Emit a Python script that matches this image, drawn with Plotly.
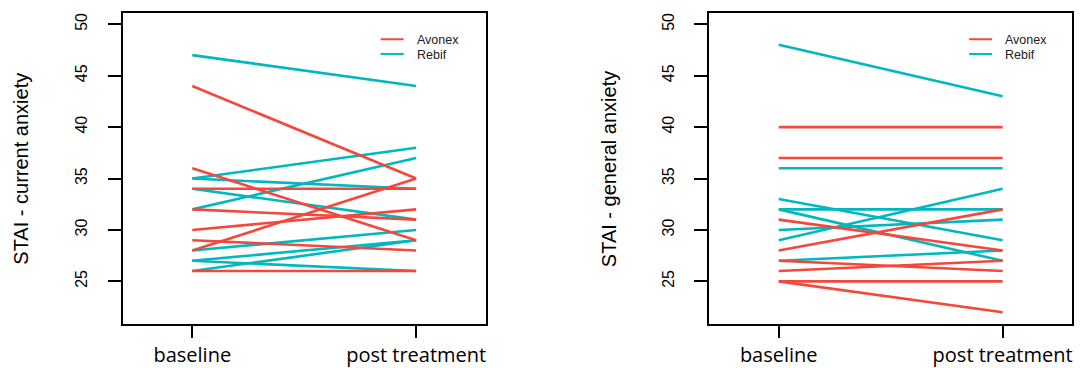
import plotly.graph_objects as go

# ---- data ----
categories = ["baseline", "post treatment"]
y_ticks = [25, 30, 35, 40, 45, 50]
groups = ["Avonex", "Rebif"]

# current anxiety (left panel)
avonex_cur_base = [44, 36, 34, 32, 30, 29, 28, 26]
avonex_cur_post = [35, 29, 34, 31, 32, 28, 35, 26]
rebif_cur_base = [47, 35, 32, 34, 35, 28, 27, 26, 27]
rebif_cur_post = [44, 38, 37, 31, 34, 30, 29, 29, 26]

# general anxiety (right panel)
avonex_gen_base = [40, 37, 31, 28, 27, 26, 25, 25]
avonex_gen_post = [40, 37, 28, 32, 26, 27, 25, 22]
rebif_gen_base = [48, 36, 33, 32, 32, 30, 29, 27]
rebif_gen_post = [43, 36, 29, 27, 32, 31, 34, 28]

RED = "#F5473B"
TEAL = "#00B8BD"
W, H = 1080, 368


def seg(base, post):
    xs, ys = [], []
    for b, p in zip(base, post):
        xs += [1, 2, None]
        ys += [b, p, None]
    return xs, ys


fig = go.Figure()

panels = [
    ("x", "y", rebif_cur_base, rebif_cur_post, avonex_cur_base, avonex_cur_post),
    ("x2", "y2", rebif_gen_base, rebif_gen_post, avonex_gen_base, avonex_gen_post),
]
for xa, ya, rb, rp, ab, ap in panels:
    xs, ys = seg(rb, rp)
    fig.add_trace(go.Scatter(x=xs, y=ys, mode="lines", xaxis=xa, yaxis=ya,
                             line=dict(color=TEAL, width=2.6), name="Rebif",
                             showlegend=False, hoverinfo="skip"))
    xs, ys = seg(ab, ap)
    fig.add_trace(go.Scatter(x=xs, y=ys, mode="lines", xaxis=xa, yaxis=ya,
                             line=dict(color=RED, width=2.6), name="Avonex",
                             showlegend=False, hoverinfo="skip"))

bottom = (H - 330) / H
top = (H - 13) / H
left_dom = [123 / W, 486 / W]
right_dom = [710 / W, 1073 / W]

xcommon = dict(range=[0.69, 2.31], tickvals=[1, 2], ticktext=categories,
               showline=True, mirror=True, linecolor="black", linewidth=2,
               ticks="outside", ticklen=12, tickwidth=2, tickcolor="black",
               showgrid=False, zeroline=False,
               tickfont=dict(family="Open Sans", size=20, color="#000"))
ycommon = dict(range=[20.88, 51.12], tickvals=y_ticks,
               showline=True, mirror=True, linecolor="black", linewidth=2,
               ticks="outside", ticklen=13, tickwidth=2, tickcolor="black",
               showgrid=False, zeroline=False, tickangle=-90,
               ticklabelstandoff=14,
               tickfont=dict(family="Liberation Sans", size=16, color="#000"))

fig.update_layout(
    width=W, height=H, margin=dict(l=0, r=0, t=0, b=0),
    paper_bgcolor="white", plot_bgcolor="white",
    xaxis=dict(domain=left_dom, anchor="y", **xcommon),
    yaxis=dict(domain=[bottom, top], anchor="x", **ycommon),
    xaxis2=dict(domain=right_dom, anchor="y2", **xcommon),
    yaxis2=dict(domain=[bottom, top], anchor="x2", **ycommon),
)

annotations = []
shapes = []
# axis titles
for xpix, txt in [(21, "STAI - current anxiety"), (609, "STAI - general anxiety")]:
    annotations.append(dict(x=xpix / W, y=(H - 172) / H, xref="paper", yref="paper",
                            text=txt, textangle=-90, showarrow=False,
                            xanchor="center", yanchor="middle",
                            font=dict(family="Liberation Sans", size=20, color="#000")))
# legends
for text_x in [415, 1004]:
    for gi, (g, c) in enumerate(zip(groups, [RED, TEAL])):
        ypix = 41 + gi * 15
        shapes.append(dict(type="line", xref="paper", yref="paper",
                           x0=(text_x - 34) / W, x1=(text_x - 11) / W,
                           y0=(H - ypix + 1) / H, y1=(H - ypix + 1) / H,
                           line=dict(color=c, width=2)))
        annotations.append(dict(x=text_x / W, y=(H - ypix) / H, xref="paper", yref="paper",
                                text=g, showarrow=False, xanchor="left", yanchor="middle",
                                font=dict(family="Liberation Sans", size=12.5, color="#222")))
fig.update_layout(annotations=annotations, shapes=shapes)

fig.write_html("out.html")
